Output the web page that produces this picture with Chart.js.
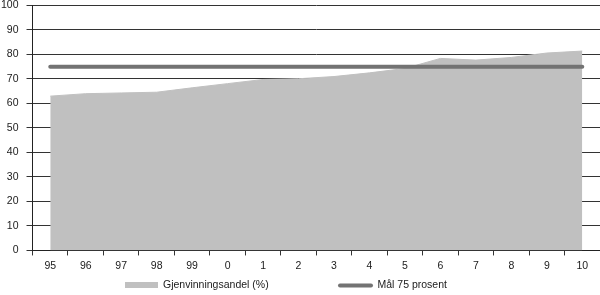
<!DOCTYPE html>
<html>
<head>
<meta charset="utf-8">
<script src="https://cdn.jsdelivr.net/npm/chart.js@4.4.0/dist/chart.umd.min.js"></script>
<style>
  html, body { margin: 0; padding: 0; background: #fff; }
  .chart-container { position: relative; width: 600px; height: 295px; }
</style>
</head>
<body>
<div class="chart-container"><canvas id="chart"></canvas></div>
<script>
const years = ['95', '96', '97', '98', '99', '0', '1', '2', '3', '4', '5', '6', '7', '8', '9', '10'];
const recycling = [63, 64, 64.3, 64.6, 66.4, 68.1, 69.8, 70.1, 71, 72.5, 74.3, 78.4, 77.7, 78.8, 80.6, 81.4];
const target = [75, 75, 75, 75, 75, 75, 75, 75, 75, 75, 75, 75, 75, 75, 75, 75];
const yTicks = [0, 10, 20, 30, 40, 50, 60, 70, 80, 90, 100];

const fontFamily = '"Liberation Sans", Arial, sans-serif';
const textColor = '#1a1a1a';
const areaColor = '#c0c0c0';
const lineColor = '#737373';

// legend drawn by hand so the wide gap between the two items can be kept
const bottomLegend = {
    id: 'bottomLegend',
    afterDraw(chart) {
        const ctx = chart.ctx;
        ctx.save();
        ctx.font = '10.5px ' + fontFamily;
        ctx.textBaseline = 'middle';
        ctx.textAlign = 'left';

        ctx.fillStyle = areaColor;
        ctx.fillRect(125, 282, 33, 6);
        ctx.fillStyle = textColor;
        ctx.fillText(chart.data.datasets[1].label, 163, 285.5);

        ctx.strokeStyle = lineColor;
        ctx.lineWidth = 4;
        ctx.lineCap = 'round';
        ctx.beginPath();
        ctx.moveTo(340, 285.5);
        ctx.lineTo(371, 285.5);
        ctx.stroke();
        ctx.fillStyle = textColor;
        ctx.fillText(chart.data.datasets[0].label, 377.5, 285.5);
        ctx.restore();
    }
};

new Chart(document.getElementById('chart'), {
    type: 'line',
    data: {
        labels: years,
        datasets: [
            {
                label: 'Mål 75 prosent',
                data: target,
                borderColor: lineColor,
                borderWidth: 4,
                borderCapStyle: 'round',
                pointRadius: 0,
                fill: false,
                order: 0
            },
            {
                label: 'Gjenvinningsandel (%)',
                data: recycling,
                borderColor: areaColor,
                backgroundColor: areaColor,
                borderWidth: 1,
                pointRadius: 0,
                fill: 'origin',
                tension: 0,
                order: 1
            }
        ]
    },
    options: {
        responsive: true,
        maintainAspectRatio: false,
        animation: false,
        layout: { padding: { left: -7, right: 0, top: 0, bottom: 18 } },
        plugins: {
            legend: { display: false },
            tooltip: { enabled: false }
        },
        scales: {
            x: {
                offset: true,
                grid: { drawOnChartArea: false, offset: true, tickLength: 5, color: '#333' },
                border: { color: '#222' },
                ticks: {
                    autoSkip: false,
                    maxRotation: 0,
                    padding: 5,
                    color: textColor,
                    font: { family: fontFamily, size: 10.5, lineHeight: 1.1 }
                }
            },
            y: {
                min: 0,
                max: 100,
                afterBuildTicks: function(scale) {
                    scale.ticks = yTicks.map(v => ({ value: v }));
                },
                afterFit: function(scale) {
                    scale.paddingTop = 5.5;
                },
                grid: { color: '#333', tickLength: 6 },
                border: { color: '#222' },
                ticks: {
                    padding: 8,
                    color: textColor,
                    font: { family: fontFamily, size: 10.5, lineHeight: 1.1 }
                }
            }
        }
    },
    plugins: [bottomLegend]
});
</script>
</body>
</html>
